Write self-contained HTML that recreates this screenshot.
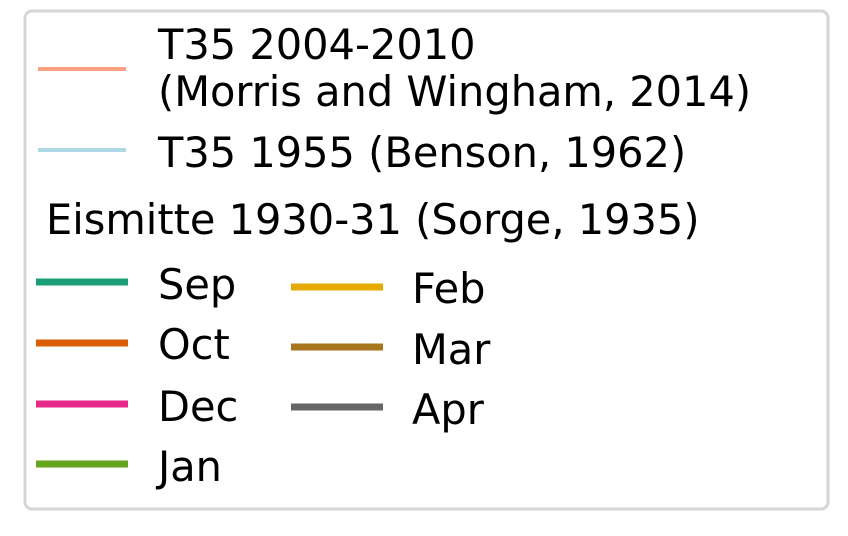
<!DOCTYPE html>
<html><head><meta charset="utf-8"><style>
html,body{margin:0;padding:0;background:#fff;}
svg{display:block;}
text{font-family:"DejaVu Sans","Liberation Sans",sans-serif;font-size:41.5px;fill:#000;}
</style></head><body>
<svg width="848" height="536" viewBox="0 0 848 536">
<rect x="25" y="11" width="803" height="498" rx="7" fill="#fff" stroke="#d6d6d6" stroke-width="3"/>
<g>
<line x1="38" y1="69" x2="126" y2="69" stroke="#fca082" stroke-width="4"/>
<text x="158" y="59">T35 2004-2010</text>
<text x="158" y="106">(Morris and Wingham, 2014)</text>
</g>
<g>
<line x1="38" y1="150" x2="126" y2="150" stroke="#add8e6" stroke-width="4"/>
<text x="158" y="167">T35 1955 (Benson, 1962)</text>
</g>
<text x="46" y="234">Eismitte 1930-31 (Sorge, 1935)</text>
<g><line x1="36" y1="282" x2="128" y2="282" stroke="#1b9e77" stroke-width="7"/><text x="158" y="299">Sep</text></g>
<g><line x1="36" y1="343" x2="128" y2="343" stroke="#d95f02" stroke-width="7"/><text x="158" y="359">Oct</text></g>
<g><line x1="36" y1="404" x2="128" y2="404" stroke="#e7298a" stroke-width="7"/><text x="158" y="421">Dec</text></g>
<g><line x1="36" y1="464" x2="128" y2="464" stroke="#66a61e" stroke-width="7"/><text x="158" y="481">Jan</text></g>
<g><line x1="291" y1="287" x2="383" y2="287" stroke="#e6ab02" stroke-width="7"/><text x="412" y="303">Feb</text></g>
<g><line x1="291" y1="347" x2="383" y2="347" stroke="#a6761d" stroke-width="7"/><text x="412" y="364">Mar</text></g>
<g><line x1="291" y1="407" x2="383" y2="407" stroke="#666666" stroke-width="7"/><text x="412" y="424">Apr</text></g>
</svg>
</body></html>
